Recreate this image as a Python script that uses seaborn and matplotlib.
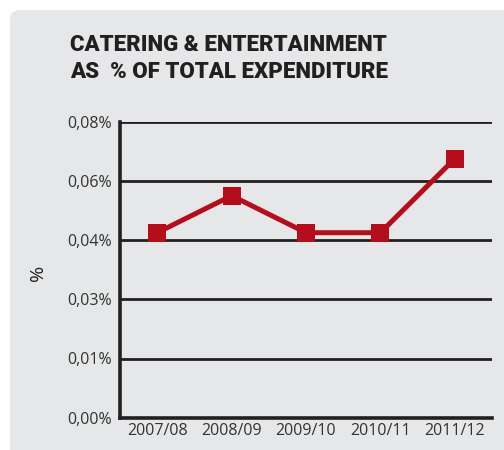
import matplotlib
matplotlib.use("Agg")
import matplotlib.pyplot as plt
from matplotlib.patches import FancyBboxPatch
import seaborn as sns
import pandas as pd

years = ["2007/08", "2008/09", "2009/10", "2010/11", "2011/12"]
share = [0.050, 0.060, 0.050, 0.050, 0.070]
ytick_values = [0.0, 0.016, 0.032, 0.048, 0.064, 0.080]
ytick_labels = ["0,00%", "0,01%", "0,03%", "0,04%", "0,06%", "0,08%"]
title_text = "CATERING & ENTERTAINMENT\nAS  % OF TOTAL EXPENDITURE"

sns.set_theme(style="white")
plt.rcParams["font.family"] = ["Open Sans", "DejaVu Sans"]

W, H = 504, 450
fig = plt.figure(figsize=(W / 100, H / 100), dpi=100)
fig.patch.set_facecolor("white")

panel_color = "#e6e7e8"
panel = FancyBboxPatch((10 / W, -0.1), 1.2, (H - 10) / H + 0.1,
                       boxstyle="round,pad=0,rounding_size=0.02",
                       transform=fig.transFigure, facecolor=panel_color,
                       edgecolor="none", zorder=-10)
fig.patches.append(panel)

ax = fig.add_axes([120 / W, (H - 417.7) / H, (492 - 120) / W, (417.7 - 121.7) / H])
ax.set_zorder(2)
ax.patch.set_alpha(0)

df = pd.DataFrame({"pos": range(len(years)), "share": share})
red = "#b50d1b"
sns.lineplot(data=df, x="pos", y="share", ax=ax, color=red, linewidth=3.6,
             marker="s", markersize=12.5, markeredgewidth=0, zorder=5)

ax.set_xlim(-0.5, len(years) - 0.5)
ax.set_ylim(0, 0.08)

ink = "#231f20"
ax.set_yticks(ytick_values)
ax.set_yticklabels(ytick_labels, fontsize=11.5, color="#333333")
ax.tick_params(axis="y", length=0, pad=6)
for v in ytick_values[1:]:
    ax.axhline(v, color=ink, linewidth=2.0, zorder=2)

ax.set_xticks(range(len(years)))
ax.set_xticklabels(years, fontsize=11.5, color="#333333")
ax.tick_params(axis="x", which="major", length=0, pad=4)
ax.set_xticks([i + 0.5 for i in range(len(years))], minor=True)
ax.tick_params(axis="x", which="minor", direction="in", length=7, width=2, color=ink)

for side in ["top", "right"]:
    ax.spines[side].set_visible(False)
ax.spines["left"].set_color(ink)
ax.spines["left"].set_linewidth(2.6)
ax.spines["bottom"].set_color(ink)
ax.spines["bottom"].set_linewidth(2.6)

ax.set_xlabel("")
ax.set_ylabel("")
fig.text(37.5 / W, 1 - 273 / H, "%", rotation=90, fontsize=14, color=ink,
         ha="center", va="center")

fig.text(70 / W, 1 - 34 / H, title_text, fontsize=16, fontweight="heavy",
         family=["Roboto", "DejaVu Sans"], color=ink, ha="left", va="top",
         linespacing=1.3)

fig.savefig("out.png", dpi=100, facecolor=fig.get_facecolor())
